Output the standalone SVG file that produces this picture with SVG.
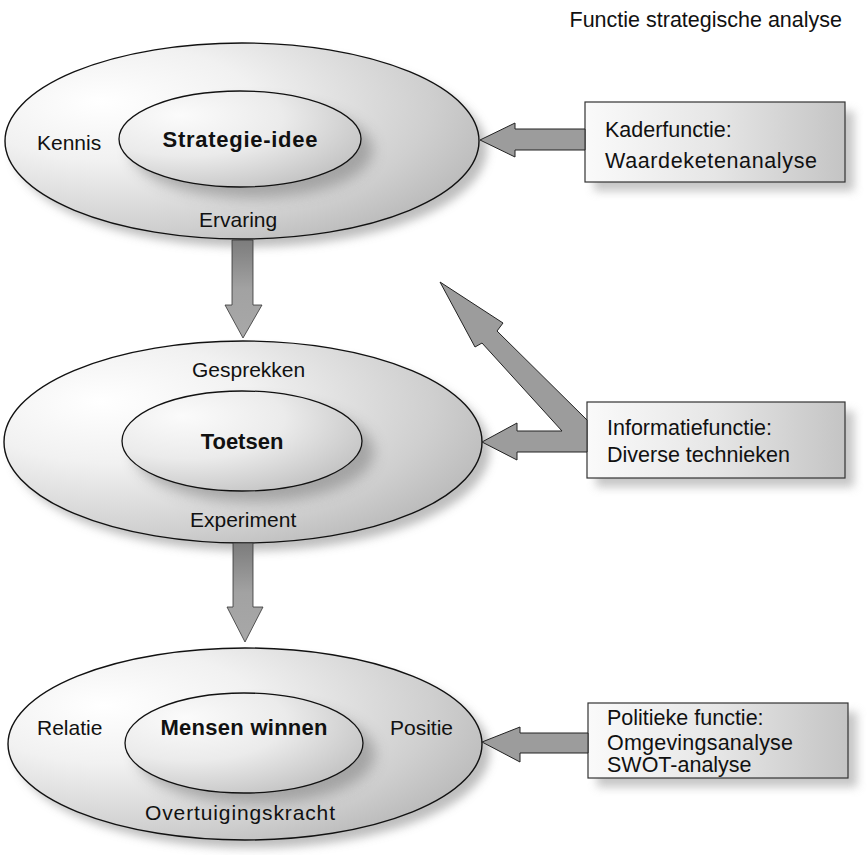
<svg xmlns="http://www.w3.org/2000/svg" width="867" height="855" viewBox="0 0 867 855">
  <defs>
    <radialGradient id="outerFill" cx="0.28" cy="0.32" r="0.85" fx="0.2" fy="0.3">
      <stop offset="0" stop-color="#ffffff"/>
      <stop offset="0.35" stop-color="#f1f1f1"/>
      <stop offset="0.75" stop-color="#cfcfcf"/>
      <stop offset="1" stop-color="#b4b4b4"/>
    </radialGradient>
    <radialGradient id="innerFill" cx="0.3" cy="0.3" r="0.9" fx="0.25" fy="0.25">
      <stop offset="0" stop-color="#fbfbfb"/>
      <stop offset="0.45" stop-color="#ebebeb"/>
      <stop offset="1" stop-color="#b9b9b9"/>
    </radialGradient>
    <linearGradient id="boxFill" x1="0" y1="0" x2="1" y2="0">
      <stop offset="0" stop-color="#fafafa"/>
      <stop offset="0.5" stop-color="#e6e6e6"/>
      <stop offset="1" stop-color="#c4c4c4"/>
    </linearGradient>
    <linearGradient id="downFill" x1="0" y1="0" x2="0" y2="1">
      <stop offset="0" stop-color="#7c7c7c"/>
      <stop offset="0.5" stop-color="#a2a2a2"/>
      <stop offset="1" stop-color="#a8a8a8"/>
    </linearGradient>
    <filter id="soft" x="-20%" y="-20%" width="140%" height="140%">
      <feGaussianBlur stdDeviation="5"/>
    </filter>
    <filter id="softer" x="-20%" y="-20%" width="140%" height="140%">
      <feGaussianBlur stdDeviation="7"/>
    </filter>
    <clipPath id="clipTop"><ellipse cx="242" cy="141" rx="237" ry="98"/></clipPath>
    <clipPath id="clipMid"><ellipse cx="243" cy="442" rx="239" ry="101"/></clipPath>
    <clipPath id="clipBot"><ellipse cx="245" cy="744" rx="237" ry="96"/></clipPath>
  </defs>
  <style>
    .txt { font-family: "Liberation Sans", Arial, sans-serif; font-size: 21px; fill: #111; }
    .bold { font-weight: bold; font-size: 22px; }
    .boxtxt { font-size: 21.5px; }
    .outer { fill: url(#outerFill); stroke: #111; stroke-width: 1.4; }
    .inner { fill: url(#innerFill); stroke: #111; stroke-width: 1.3; }
    .shadow { fill: #a8a8a8; opacity: 0.75; filter: url(#soft); }
    .innerShadow { fill: #8e8e8e; opacity: 0.7; filter: url(#softer); }
    .box { fill: url(#boxFill); stroke: #333; stroke-width: 1.2; }
    .arrow { fill: #9c9c9c; stroke: #222; stroke-width: 1; stroke-linejoin: miter; }
    .down { fill: url(#downFill); stroke: #333; stroke-width: 0.8; }
  </style>

  <rect width="867" height="855" fill="#ffffff"/>

  <text id="title" class="txt" x="842" y="27" text-anchor="end" style="font-size:21.5px">Functie strategische analyse</text>

  <!-- Strategy idea -->
  <g id="node-strategie">
    <ellipse class="shadow" cx="250" cy="149" rx="237" ry="98"/>
    <ellipse class="outer" cx="242" cy="141" rx="237" ry="98"/>
    <ellipse class="innerShadow" cx="252" cy="150" rx="121" ry="48" clip-path="url(#clipTop)"/>
    <ellipse class="inner" cx="240" cy="139" rx="121" ry="48"/>
    <text class="txt" x="37" y="150">Kennis</text>
    <text class="txt bold" x="240" y="147" text-anchor="middle" textLength="155">Strategie-idee</text>
    <text class="txt" x="199" y="227">Ervaring</text>
  </g>

  <!-- Testing -->
  <g id="node-toetsen">
    <ellipse class="shadow" cx="251" cy="450" rx="239" ry="101"/>
    <ellipse class="outer" cx="243" cy="442" rx="239" ry="101"/>
    <ellipse class="innerShadow" cx="254" cy="452" rx="120" ry="50" clip-path="url(#clipMid)"/>
    <ellipse class="inner" cx="242" cy="441" rx="120" ry="50"/>
    <text class="txt" x="192" y="377">Gesprekken</text>
    <text class="txt bold" x="242" y="449" text-anchor="middle">Toetsen</text>
    <text class="txt" x="190" y="527">Experiment</text>
  </g>

  <!-- Winning people -->
  <g id="node-mensen">
    <ellipse class="shadow" cx="253" cy="752" rx="237" ry="96"/>
    <ellipse class="outer" cx="245" cy="744" rx="237" ry="96"/>
    <ellipse class="innerShadow" cx="256" cy="754" rx="119" ry="50" clip-path="url(#clipBot)"/>
    <ellipse class="inner" cx="244" cy="743" rx="119" ry="50"/>
    <text class="txt" x="37" y="735">Relatie</text>
    <text class="txt bold" x="244" y="735" text-anchor="middle" textLength="167">Mensen winnen</text>
    <text class="txt" x="390" y="735">Positie</text>
    <text class="txt" x="145" y="820" textLength="190">Overtuigingskracht</text>
  </g>

  <!-- Function boxes -->
  <g id="box-kader">
    <rect x="594" y="111" width="260" height="80" fill="#b8b8b8" opacity="0.8" filter="url(#soft)"/>
    <rect class="box" x="585" y="102" width="260" height="80"/>
    <text class="txt boxtxt" x="605" y="137">Kaderfunctie:</text>
    <text class="txt boxtxt" x="605" y="168" textLength="212">Waardeketenanalyse</text>
  </g>

  <g id="box-informatie">
    <rect x="596" y="411" width="258" height="76" fill="#b8b8b8" opacity="0.8" filter="url(#soft)"/>
    <rect class="box" x="587" y="402" width="258" height="76"/>
    <text class="txt boxtxt" x="607" y="435">Informatiefunctie:</text>
    <text class="txt boxtxt" x="607" y="462">Diverse technieken</text>
  </g>

  <g id="box-politiek">
    <rect x="597" y="712" width="260" height="75" fill="#b8b8b8" opacity="0.8" filter="url(#soft)"/>
    <rect class="box" x="588" y="703" width="260" height="75"/>
    <text class="txt boxtxt" x="607" y="725">Politieke functie:</text>
    <text class="txt boxtxt" x="607" y="750" textLength="186">Omgevingsanalyse</text>
    <text class="txt boxtxt" x="607" y="772">SWOT-analyse</text>
  </g>

  <!-- Block arrows -->
  <g id="connectors">
    <polygon class="down" points="232,240 253,240 253,305 262,305 243,338 225,305 232,305"/>
    <polygon class="down" points="233,543 253,543 253,607 263,607 245,642 227,607 233,607"/>
    <polygon class="arrow" points="480,140 515,123 515,129 585,129 585,150 515,150 515,157"/>
    <polygon class="arrow" points="482,442 517,423 517,431 562,431 482,343 475,347 440,282 503,323 497,331 587,420 587,452 517,452 517,460"/>
    <polygon class="arrow" points="482,742 520,727 520,733 588,733 588,753 520,753 520,762"/>
  </g>
</svg>
